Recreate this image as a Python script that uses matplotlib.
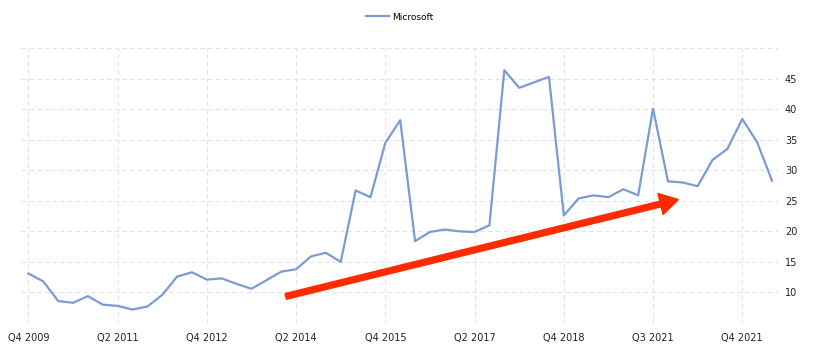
import numpy as np
import matplotlib.pyplot as plt

# P/E ratio, quarterly points (labels only every 6th point)
pe_values = [13.1, 11.8, 8.6, 8.3, 9.4, 8.0, 7.8, 7.2, 7.7, 9.6,
             12.6, 13.3, 12.1, 12.3, 11.4, 10.6, 12.0, 13.4, 13.8, 15.9,
             16.5, 15.0, 26.7, 25.6, 34.5, 38.2, 18.4, 19.9, 20.3, 20.0,
             19.9, 21.0, 46.4, 43.5, 44.4, 45.3, 22.6, 25.4, 25.9, 25.6,
             26.9, 25.9, 40.1, 28.2, 28.0, 27.4, 31.7, 33.5, 38.4, 34.6,
             28.3]
tick_labels = ['Q4 2009', 'Q2 2011', 'Q4 2012', 'Q2 2014', 'Q4 2015',
               'Q2 2017', 'Q4 2018', 'Q3 2021', 'Q4 2021']
tick_step = 6
y_ticks = [10, 15, 20, 25, 30, 35, 40, 45]

# trend arrow (annotation)
arrow_start = (17.3, 9.35)
arrow_end = (43.7, 25.2)

fig = plt.figure(figsize=(8.3, 3.54), dpi=100)
ax = fig.add_axes([0.0253, 0.0876, 0.912, 0.7764])

x = np.arange(len(pe_values))
ax.plot(x, pe_values, color='#7b9bd2', lw=1.6, label='Microsoft', zorder=3)

ax.set_xlim(-0.5, len(pe_values) - 0.6)
ax.set_ylim(5, 50)

ax.set_xticks(x[::tick_step][:len(tick_labels)])
ax.set_xticklabels(tick_labels)
ax.set_yticks(np.arange(5, 51, 5))
ax.set_yticklabels(['' if v not in y_ticks else str(v) for v in range(5, 51, 5)])
ax.yaxis.tick_right()
ax.tick_params(axis='both', length=0, labelsize=7, colors='#222222')
ax.tick_params(axis='x', pad=7)
ax.tick_params(axis='y', pad=5)

for s in ax.spines.values():
    s.set_visible(False)
ax.grid(True, color='#e3e3e3', ls=(0, (4, 3)), lw=0.8)
ax.set_axisbelow(True)

ax.annotate('', xy=arrow_end, xytext=arrow_start,
            arrowprops=dict(arrowstyle='simple,head_length=1.1,head_width=1.3,tail_width=0.35',
                            color='#ff2a00', mutation_scale=12, shrinkA=0, shrinkB=0),
            zorder=4)

leg = ax.legend(loc='center', bbox_to_anchor=(0.5, 1.113), frameon=False,
                fontsize=6.5, handlelength=2.6, handletextpad=0.3)

fig.savefig('out.png', dpi=100)
